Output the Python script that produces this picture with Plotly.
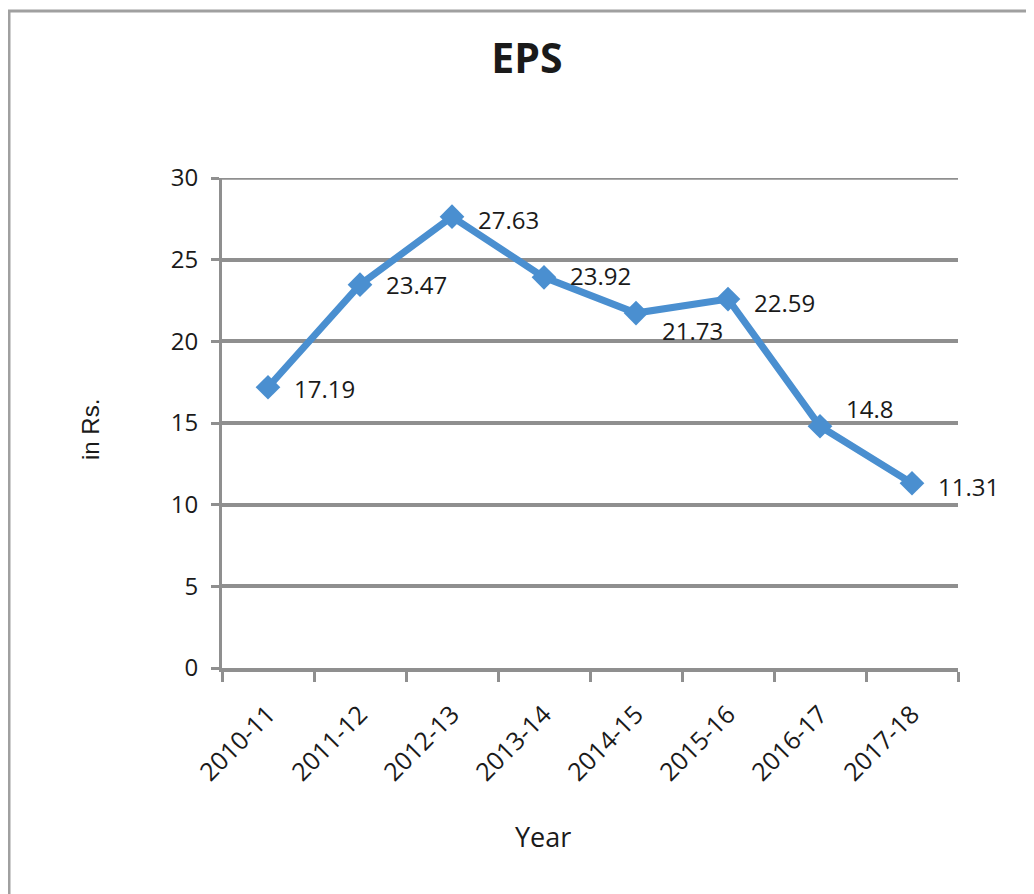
import plotly.graph_objects as go

years = ["2010-11", "2011-12", "2012-13", "2013-14", "2014-15", "2015-16", "2016-17", "2017-18"]
eps = [17.19, 23.47, 27.63, 23.92, 21.73, 22.59, 14.8, 11.31]
y_ticks = [0, 5, 10, 15, 20, 25, 30]
# label vertical offsets (px) relative to the point
label_dy = [-1, 0, -3, 2, -17, -3, 18, -3]

FONT = "Open Sans, Liberation Sans, sans-serif"
ARIAL = "Liberation Sans, Arial, sans-serif"
GRID = "#8f8f8f"
BLUE = "#4a8fd0"
TXT = "#1a1a1a"

fig = go.Figure()
fig.add_trace(go.Scatter(
    x=years, y=eps,
    mode="lines+markers",
    line=dict(color=BLUE, width=7),
    marker=dict(symbol="diamond", size=19, color=BLUE),
    cliponaxis=False,
    showlegend=False,
))

annotations = []
for yr, v, dy in zip(years, eps, label_dy):
    annotations.append(dict(
        x=yr, y=v, xref="x", yref="y", text=str(v), showarrow=False,
        xanchor="left", yanchor="middle", xshift=24, yshift=dy,
        font=dict(family=FONT, size=24, color=TXT),
    ))
annotations.append(dict(text="Year", xref="paper", yref="paper", x=(543 - 222) / 736, y=-(836 - 668) / 490,
                        xanchor="center", yanchor="middle", showarrow=False,
                        font=dict(family=FONT, size=27, color=TXT)))
annotations.append(dict(text="in Rs.", xref="paper", yref="paper", x=-(222 - 90) / 736, y=(668 - 430) / 490,
                        xanchor="center", yanchor="middle", showarrow=False, textangle=-90,
                        font=dict(family=ARIAL, size=24, color=TXT)))

fig.update_layout(
    width=1034, height=894,
    paper_bgcolor="white", plot_bgcolor="white",
    margin=dict(l=214, r=84, t=170, b=234),
    title=dict(text="<b>EPS</b>", x=(527 - 8) / 1034, xanchor="center", y=1 - (59 - 8) / 894, yanchor="middle",
               font=dict(family=FONT, size=41, color=TXT)),
    font=dict(family=FONT, size=24, color=TXT),
    annotations=annotations,
    shapes=[
        dict(type="rect", xref="paper", yref="paper", x0=-(222 - 9) / 736, x1=1.3, y0=-0.6,
             y1=(668 - 11) / 490, line=dict(color="#a0a0a0", width=3),
             fillcolor="rgba(0,0,0,0)", layer="below"),
        dict(type="line", xref="paper", yref="y", x0=0, x1=1, y0=y_ticks[-1], y1=y_ticks[-1],
             line=dict(color=GRID, width=3.5), layer="below"),
    ],
)

fig.update_xaxes(
    type="category", range=[-0.5, 7.5],
    tickson="boundaries", ticks="outside", ticklen=10, tickwidth=3, tickcolor=GRID,
    tickangle=-45, tickfont=dict(family=FONT, size=25, color=TXT),
    ticklabelstandoff=18,
    showline=True, linecolor=GRID, linewidth=3.5,
    showgrid=False,
)
fig.update_yaxes(
    range=[0, 30], tickvals=y_ticks,
    ticks="outside", ticklen=8, tickwidth=3, tickcolor=GRID,
    tickfont=dict(family=FONT, size=24, color=TXT),
    ticklabelstandoff=8,
    showline=True, linecolor=GRID, linewidth=3,
    showgrid=True, gridcolor=GRID, gridwidth=3.5,
    zeroline=False,
)

fig.write_html("out.html")
